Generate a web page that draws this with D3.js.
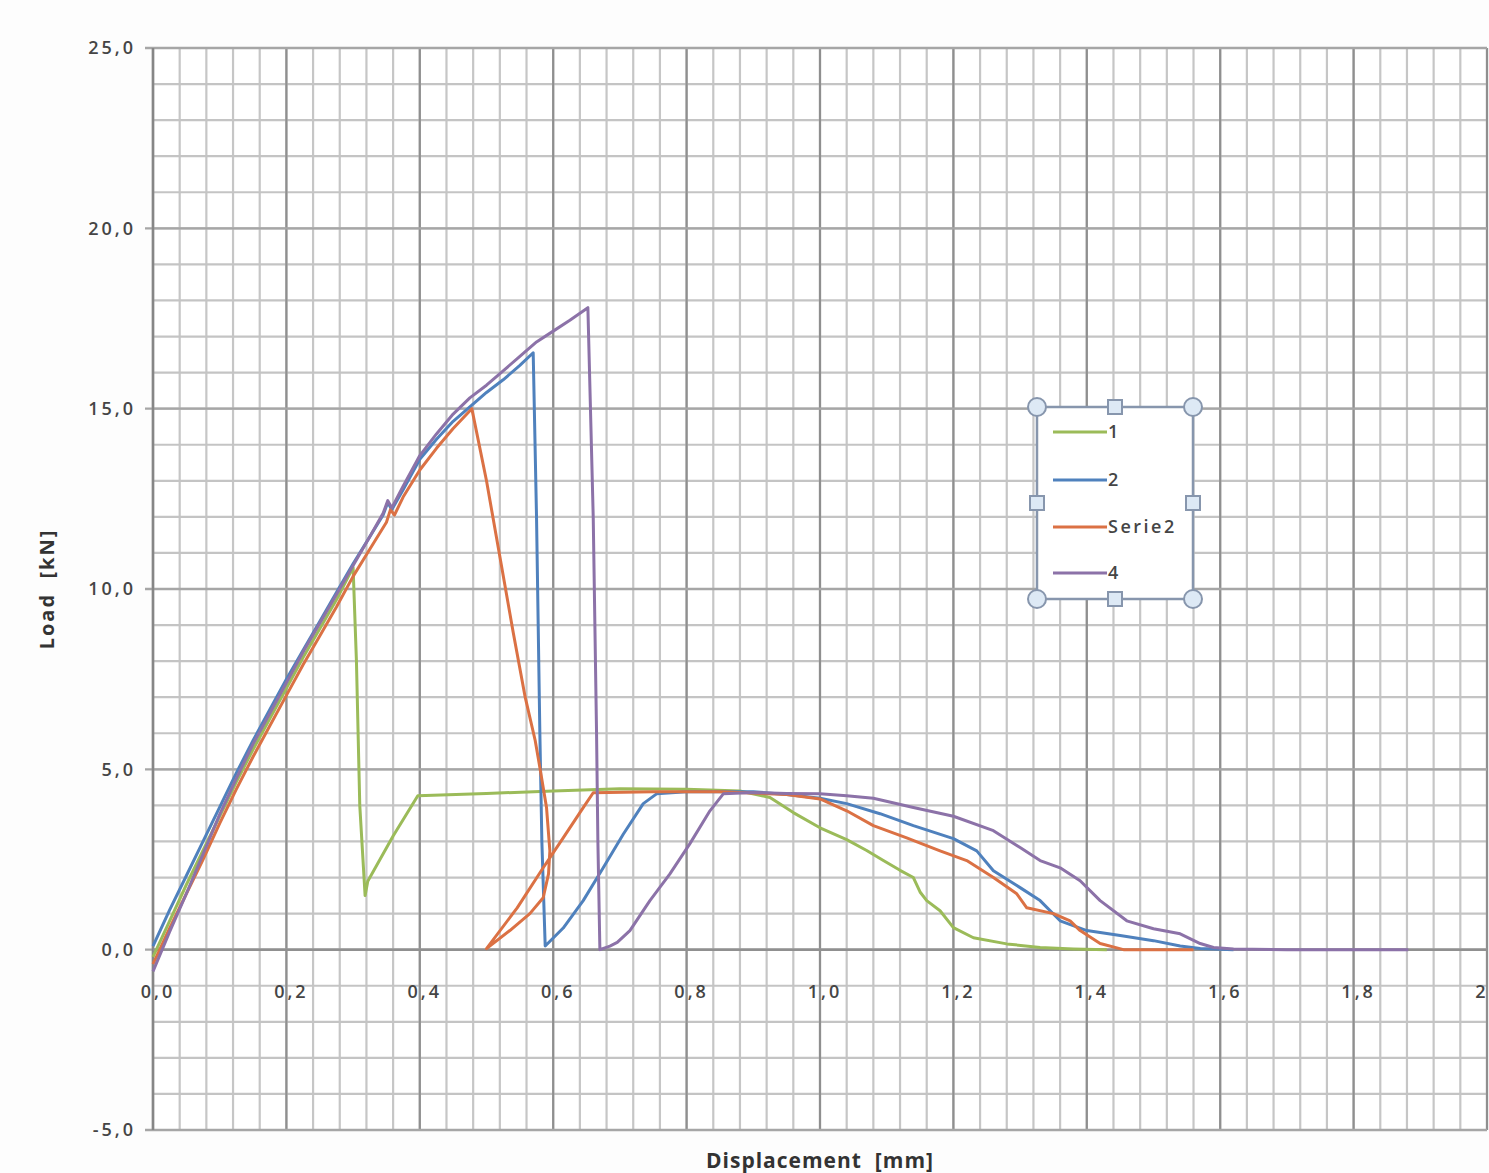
<!DOCTYPE html>
<html>
<head>
<meta charset="utf-8">
<script src="https://cdn.jsdelivr.net/npm/d3@7"></script>
<style>
  html, body { margin: 0; padding: 0; background: #fdfdfd; overflow: hidden; }
  text { font-family: "Open Sans", "Liberation Sans", Arial, sans-serif; }
</style>
</head>
<body>
<svg id="chart"></svg>
<script>
// axis ticks
var xTicks = [0, 0.2, 0.4, 0.6, 0.8, 1.0, 1.2, 1.4, 1.6, 1.8, 2.0];
var xTickLabels = ["0,0", "0,2", "0,4", "0,6", "0,8", "1,0", "1,2", "1,4", "1,6", "1,8", "2"];
var yTicks = [-5, 0, 5, 10, 15, 20, 25];
var yTickLabels = ["-5,0", "0,0", "5,0", "10,0", "15,0", "20,0", "25,0"];

var seriesNames = ["1", "2", "Serie2", "4"];

// [displacement mm, load kN]
var serie1 = [[0,-0.2],[0.025,0.8],[0.05,1.8],[0.075,2.75],[0.1,3.7],[0.125,4.65],[0.15,5.55],
  [0.175,6.4],[0.2,7.25],[0.225,8.1],[0.25,8.9],[0.275,9.7],[0.3,10.6],
  [0.305,8.0],[0.31,4.0],[0.318,1.5],[0.322,1.9],[0.36,3.15],[0.397,4.27],[0.5,4.33],
  [0.6,4.4],[0.7,4.46],[0.8,4.45],[0.88,4.4],[0.925,4.22],[0.96,3.8],[1.0,3.38],[1.04,3.05],
  [1.07,2.75],[1.095,2.47],[1.12,2.2],[1.14,2.0],[1.15,1.6],[1.16,1.36],[1.18,1.08],
  [1.2,0.61],[1.23,0.33],[1.28,0.16],[1.33,0.06],[1.38,0.02],[1.43,0.0]];

var serie2 = [[0,0.1],[0.025,1.1],[0.05,2.05],[0.075,3.0],[0.1,3.95],[0.125,4.9],[0.15,5.8],
  [0.175,6.65],[0.2,7.5],[0.225,8.3],[0.25,9.1],[0.275,9.9],[0.3,10.7],[0.325,11.45],
  [0.345,12.05],[0.352,12.4],[0.358,12.2],[0.375,12.75],[0.4,13.6],[0.425,14.15],
  [0.45,14.65],[0.475,15.05],[0.5,15.45],[0.525,15.8],[0.55,16.2],[0.57,16.55],
  [0.575,12],[0.58,6],[0.583,3],[0.588,0.1],[0.615,0.6],[0.645,1.36],
  [0.675,2.27],[0.705,3.2],[0.735,4.05],[0.755,4.32],[0.8,4.38],[0.9,4.38],[0.95,4.3],
  [1.0,4.2],[1.04,4.05],[1.09,3.77],[1.14,3.44],[1.2,3.08],[1.235,2.74],[1.26,2.19],
  [1.3,1.72],[1.33,1.36],[1.36,0.8],[1.4,0.53],[1.45,0.39],[1.5,0.25],[1.54,0.1],
  [1.57,0.03],[1.62,0.0]];

var serie3 = [[0,-0.4],[0.025,0.6],[0.05,1.55],[0.075,2.5],[0.1,3.5],[0.125,4.45],[0.15,5.35],
  [0.175,6.2],[0.2,7.05],[0.225,7.9],[0.25,8.7],[0.275,9.5],[0.3,10.35],[0.325,11.1],
  [0.35,11.85],[0.356,12.2],[0.362,12.05],[0.375,12.55],[0.4,13.3],[0.425,13.9],
  [0.45,14.45],[0.478,15.0],[0.5,13.0],[0.52,10.9],[0.54,8.8],[0.558,7.0],[0.573,5.8],
  [0.58,5.05],[0.59,3.94],[0.595,2.74],[0.593,2.1],[0.585,1.44],[0.565,1.0],[0.535,0.53],
  [0.5,0.03],[0.546,1.16],[0.585,2.27],[0.615,3.1],[0.645,3.94],[0.66,4.35],[0.75,4.38],
  [0.85,4.38],[0.95,4.3],[1.0,4.18],[1.04,3.85],[1.08,3.44],[1.13,3.1],[1.18,2.74],
  [1.22,2.47],[1.26,2.0],[1.295,1.55],[1.31,1.16],[1.35,1.0],[1.375,0.8],[1.39,0.53],
  [1.42,0.17],[1.455,0.0],[1.56,0.0]];

var serie4 = [[0,-0.6],[0.025,0.5],[0.05,1.55],[0.075,2.65],[0.1,3.75],[0.125,4.75],[0.15,5.7],
  [0.175,6.55],[0.2,7.4],[0.225,8.25],[0.25,9.05],[0.275,9.85],[0.3,10.65],[0.325,11.45],
  [0.345,12.1],[0.352,12.45],[0.358,12.25],[0.375,12.85],[0.4,13.7],[0.425,14.3],
  [0.45,14.85],[0.475,15.3],[0.5,15.65],[0.525,16.05],[0.55,16.45],[0.575,16.85],
  [0.6,17.15],[0.625,17.45],[0.652,17.8],[0.66,12],[0.665,6],[0.667,3],[0.67,0.0],
  [0.685,0.1],[0.696,0.2],[0.715,0.53],[0.745,1.36],[0.775,2.1],[0.805,2.94],[0.835,3.85],
  [0.855,4.32],[0.9,4.36],[0.95,4.33],[1.0,4.32],[1.04,4.27],[1.08,4.2],[1.14,3.94],
  [1.2,3.7],[1.26,3.3],[1.3,2.83],[1.33,2.47],[1.36,2.27],[1.39,1.91],[1.42,1.36],
  [1.46,0.8],[1.5,0.58],[1.54,0.44],[1.57,0.17],[1.59,0.06],[1.62,0.02],[1.7,0.0],[1.882,0.0]];

var seriesColors = ["#9BBB59", "#4F81BD", "#DB7144", "#8C72A8"];

drawChart();

function drawChart() {
  var svgWidth = 1489, svgHeight = 1173;
  var margin = { top: 48, right: 2, bottom: 43, left: 153 };

  var svg = d3.select("#chart")
    .attr("width", svgWidth)
    .attr("height", svgHeight)
    .style("display", "block");

  svg.append("rect")
    .attr("width", svgWidth).attr("height", svgHeight)
    .attr("fill", "#fdfdfd");

  var x = d3.scaleLinear().domain([0, 2]).range([margin.left, svgWidth - margin.right]);
  var y = d3.scaleLinear().domain([-5, 25]).range([svgHeight - margin.bottom, margin.top]);

  svg.append("rect")
    .attr("x", x(0)).attr("y", y(25))
    .attr("width", x(2) - x(0)).attr("height", y(-5) - y(25))
    .attr("fill", "#ffffff");

  // minor grid: every 0.04 mm / 1 kN
  var grid = svg.append("g");
  grid.selectAll(".vminor")
    .data(d3.range(0, 51).map(i => i * 0.04))
    .enter().append("line")
    .attr("x1", d => x(d)).attr("x2", d => x(d))
    .attr("y1", y(25)).attr("y2", y(-5))
    .attr("stroke", "#c6c6c6").attr("stroke-width", 2.2);

  grid.selectAll(".hminor")
    .data(d3.range(-5, 26))
    .enter().append("line")
    .attr("x1", x(0)).attr("x2", x(2))
    .attr("y1", d => y(d)).attr("y2", d => y(d))
    .attr("stroke", "#c4c4c4").attr("stroke-width", 2.2);

  // major grid
  grid.selectAll(".vmajor")
    .data(xTicks)
    .enter().append("line")
    .attr("x1", d => x(d)).attr("x2", d => x(d))
    .attr("y1", y(25)).attr("y2", y(-5))
    .attr("stroke", "#8f8f8f").attr("stroke-width", 2.2);

  grid.selectAll(".hmajor")
    .data(yTicks)
    .enter().append("line")
    .attr("x1", x(0) - 8).attr("x2", x(2))
    .attr("y1", d => y(d)).attr("y2", d => y(d))
    .attr("stroke", "#a6a6a6").attr("stroke-width", 2.4);

  // axes lines
  svg.append("line")
    .attr("x1", x(0)).attr("x2", x(0)).attr("y1", y(25)).attr("y2", y(-5))
    .attr("stroke", "#868686").attr("stroke-width", 2.5);
  svg.append("line")
    .attr("x1", x(0)).attr("x2", x(2)).attr("y1", y(0)).attr("y2", y(0))
    .attr("stroke", "#909090").attr("stroke-width", 2.5);

  // tick labels
  svg.selectAll(".ylab")
    .data(yTicks)
    .enter().append("text")
    .attr("x", x(0) - 17)
    .attr("y", d => y(d))
    .attr("dy", "0.35em")
    .attr("text-anchor", "end")
    .attr("font-size", 18)
    .attr("font-weight", 600)
    .attr("letter-spacing", 3)
    .attr("fill", "#454545")
    .text((d, i) => yTickLabels[i]);

  svg.selectAll(".xlab")
    .data(xTicks)
    .enter().append("text")
    .attr("x", (d, i) => i === xTicks.length - 1 ? x(d) - 5 : x(d) + 5)
    .attr("y", y(0) + 48)
    .attr("text-anchor", "middle")
    .attr("font-size", 18)
    .attr("font-weight", 600)
    .attr("letter-spacing", 3)
    .attr("fill", "#454545")
    .text((d, i) => xTickLabels[i]);

  // axis titles
  svg.append("text")
    .attr("transform", `translate(54, ${y(10)}) rotate(-90)`)
    .attr("text-anchor", "middle")
    .attr("font-size", 20)
    .attr("font-weight", "bold")
    .attr("letter-spacing", 2)
    .style("white-space", "pre")
    .attr("fill", "#333")
    .text("Load  [kN]");

  svg.append("text")
    .attr("x", x(1))
    .attr("y", svgHeight - 5)
    .attr("text-anchor", "middle")
    .attr("font-size", 21)
    .attr("font-weight", "bold")
    .attr("letter-spacing", 1)
    .style("white-space", "pre")
    .attr("fill", "#333")
    .text("Displacement  [mm]");

  // series
  var line = d3.line()
    .x(d => x(d[0]))
    .y(d => y(d[1]));

  var allSeries = [serie1, serie2, serie3, serie4];
  svg.selectAll(".serie")
    .data(allSeries)
    .enter().append("path")
    .attr("fill", "none")
    .attr("stroke", (d, i) => seriesColors[i])
    .attr("stroke-width", 3)
    .attr("stroke-linejoin", "round")
    .attr("d", line);

  // legend (selected, with handles like in the spreadsheet)
  var lg = svg.append("g").attr("transform", "translate(1037, 407)");
  var lw = 156, lh = 192;
  lg.append("rect")
    .attr("width", lw).attr("height", lh)
    .attr("fill", "#ffffff")
    .attr("stroke", "#8796ad").attr("stroke-width", 2.5);

  var rowY = [25, 73, 120, 166];
  seriesNames.forEach(function(name, i) {
    lg.append("line")
      .attr("x1", 16).attr("x2", 70)
      .attr("y1", rowY[i]).attr("y2", rowY[i])
      .attr("stroke", seriesColors[i]).attr("stroke-width", 3);
    lg.append("text")
      .attr("x", 71).attr("y", rowY[i])
      .attr("dy", "0.35em")
      .attr("font-size", 18)
      .attr("font-weight", 600)
      .attr("letter-spacing", 2.5)
      .attr("fill", "#454545")
      .text(name);
  });

  var corners = [[0, 0], [lw, 0], [0, lh], [lw, lh]];
  lg.selectAll(".corner")
    .data(corners)
    .enter().append("circle")
    .attr("cx", d => d[0]).attr("cy", d => d[1]).attr("r", 9)
    .attr("fill", "#dde9f5").attr("stroke", "#8796ad").attr("stroke-width", 2);

  var mids = [[lw / 2, 0], [lw / 2, lh], [0, lh / 2], [lw, lh / 2]];
  lg.selectAll(".mid")
    .data(mids)
    .enter().append("rect")
    .attr("x", d => d[0] - 7).attr("y", d => d[1] - 7)
    .attr("width", 14).attr("height", 14)
    .attr("fill", "#dde9f5").attr("stroke", "#8796ad").attr("stroke-width", 2);
}
</script>
</body>
</html>
